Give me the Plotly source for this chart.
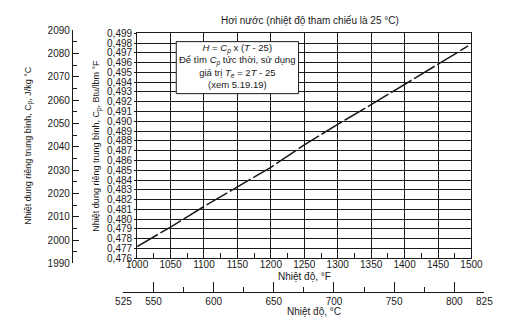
import plotly.graph_objects as go

# Mean heat capacity of steam (reference temperature 25 °C)
temp_f = [1000, 1050, 1100, 1150, 1200, 1250, 1300, 1350, 1400, 1450, 1495]
cp_btu = [0.4772, 0.4792, 0.4813, 0.4833, 0.4853, 0.4876, 0.4897, 0.4917, 0.4938, 0.4959, 0.4977]

celsius_ticks = [525, 550, 575, 600, 625, 650, 675, 700, 725, 750, 775, 800, 825]
celsius_labels = ["525", "550", "", "600", "", "650", "", "700", "", "750", "", "800", "825"]
celsius_major = [550, 600, 650, 700, 750, 800]

W, H = 515, 326
FONT = "Liberation Sans, Arial, sans-serif"
INK = "#1a1a1a"


def px(x):
    return x / W


def py(y):
    return 1 - y / H


fig = go.Figure()

fig.add_trace(go.Scatter(
    x=temp_f, y=cp_btu, mode="lines",
    line=dict(color=INK, width=1.5, dash="24px,3px"),
    hoverinfo="skip", showlegend=False,
))

# carrier trace for the secondary °C and J/kg °C scales
fig.add_trace(go.Scatter(
    x=[525, 825], y=[1990, 2090], xaxis="x3", yaxis="y2",
    mode="markers", marker=dict(opacity=0), hoverinfo="skip", showlegend=False,
))

tickfont = dict(family=FONT, size=10, color=INK)

fig.update_layout(
    width=W, height=H,
    margin=dict(l=0, r=0, t=0, b=0),
    paper_bgcolor="white", plot_bgcolor="rgba(0,0,0,0)",
    separators=",.",
    font=dict(family=FONT, color=INK),
    xaxis=dict(
        domain=[px(132), px(482)], range=[1000, 1500],
        tickmode="linear", tick0=1000, dtick=50,
        showgrid=True, gridcolor=INK, gridwidth=1,
        showline=True, linecolor=INK, linewidth=1, mirror=True,
        ticks="", tickfont=tickfont, zeroline=False, ticklabelstandoff=-3,
        minor=dict(ticks="inside", tick0=1000, dtick=25, ticklen=5,
                   tickcolor=INK, showgrid=False),
    ),
    yaxis=dict(
        domain=[py(262), py(28.3)], range=[0.476, 0.499],
        tickmode="linear", tick0=0.476, dtick=0.001, tickformat=".3f",
        showgrid=True, gridcolor=INK, gridwidth=1,
        showline=True, linecolor=INK, linewidth=1, mirror=True,
        ticks="outside", ticklen=2, tickcolor=INK,
        tickfont=tickfont, zeroline=False,
    ),
    xaxis3=dict(
        domain=[px(117.7), px(495.5)], range=[525, 825],
        anchor="free", position=py(296.7), side="bottom",
        tickmode="array", tickvals=celsius_ticks, ticktext=celsius_labels,
        ticks="inside", ticklen=5, tickcolor=INK,
        minor=dict(tickmode="array", tickvals=celsius_major, ticks="inside",
                   ticklen=10, tickcolor=INK, showgrid=False),
        showline=True, linecolor=INK, linewidth=1,
        showgrid=False, zeroline=False, tickfont=tickfont,
    ),
    yaxis2=dict(
        domain=[py(267.3), py(25)], range=[1990, 2090],
        anchor="free", position=px(63.7), side="left",
        tickmode="linear", tick0=1990, dtick=10,
        ticks="inside", ticklen=6, tickcolor=INK,
        minor=dict(ticks="inside", dtick=5, tick0=1990, ticklen=4,
                   tickcolor=INK, showgrid=False),
        showline=True, linecolor=INK, linewidth=1,
        showgrid=False, zeroline=False, tickfont=tickfont,
    ),
)

# note box
fig.add_shape(type="rect", xref="paper", yref="paper",
              x0=px(173), x1=px(301), y0=py(91), y1=py(37),
              fillcolor="white", line=dict(color=INK, width=1), layer="above")

annotations = [
    dict(x=px(237), y=py(62),
         text="<i>H</i> = <i>C<sub>p</sub></i> x (<i>T</i> - 25)<br>"
              "Để tìm <i>C<sub>p</sub></i> tức thời, sử dụng<br>"
              "giá trị <i>T<sub>e</sub></i> = 2<i>T</i> - 25<br>"
              "(xem 5.19.19)",
         font=dict(size=9.5)),
    dict(x=px(313), y=py(15), text="Hơi nước (nhiệt độ tham chiếu là 25 °C)",
         font=dict(size=10)),
    dict(x=px(307), y=py(281), text="Nhiệt độ, °F", font=dict(size=10)),
    dict(x=px(317), y=py(317), text="Nhiệt độ, °C", font=dict(size=10)),
    dict(x=px(18), y=py(145), textangle=-90,
         text="Nhiệt dung riêng trung bình, C<sub>p</sub>, J/kg °C",
         font=dict(size=9)),
    dict(x=px(90), y=py(145), textangle=-90,
         text="Nhiệt dung riêng trung bình, C<sub>p</sub>, Btu/lbm °F",
         font=dict(size=9)),
]
for a in annotations:
    a.update(xref="paper", yref="paper", showarrow=False,
             xanchor="center", yanchor="middle")
    a["font"].update(family=FONT, color=INK)
    fig.add_annotation(**a)

fig.write_html("out.html")
